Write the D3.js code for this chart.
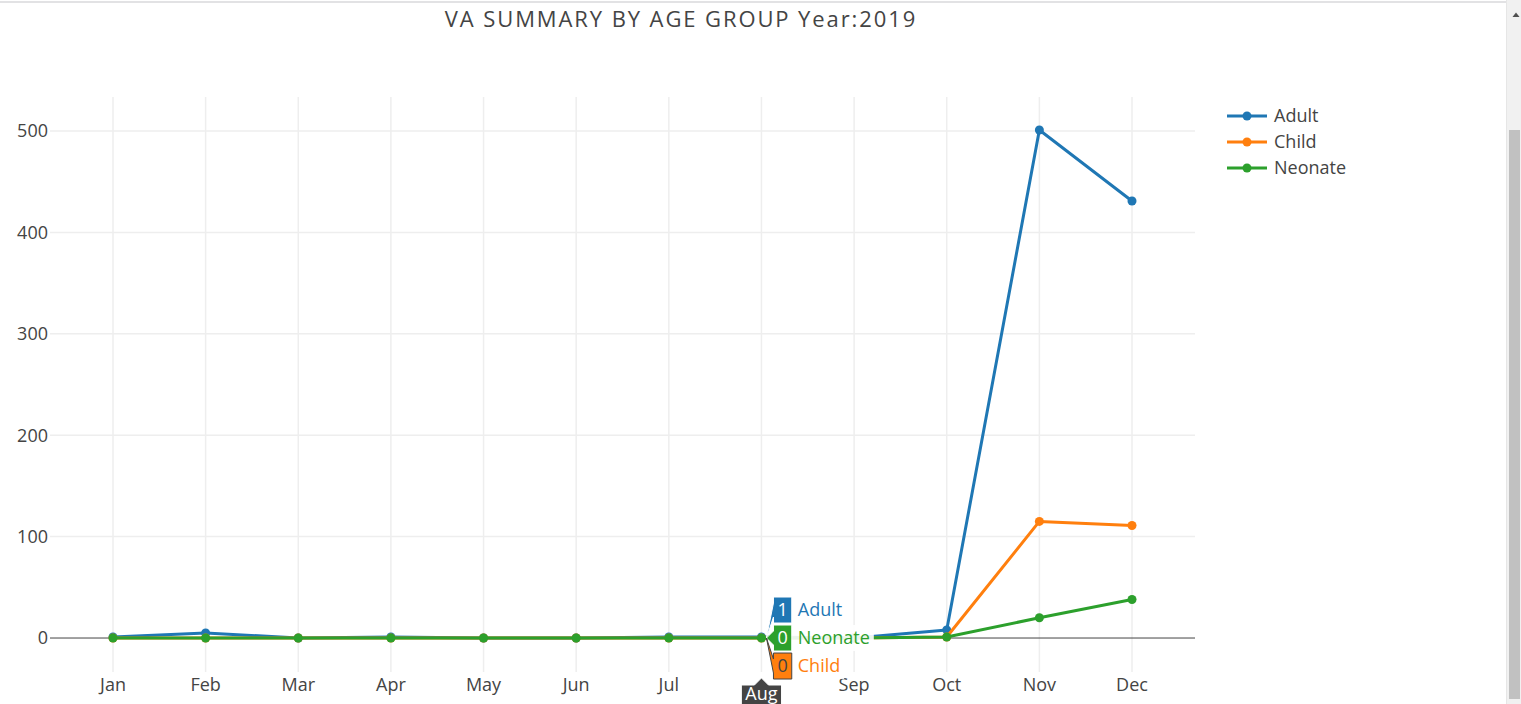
<!DOCTYPE html>
<html>
<head>
<meta charset="utf-8">
<script src="https://cdn.jsdelivr.net/npm/d3@7"></script>
<style>
  body { margin: 0; background: #fff; overflow: hidden; }
  svg { display: block; font-family: "Open Sans", sans-serif; }
</style>
</head>
<body>
<svg id="chart" width="1521" height="704"></svg>
<script>
// chart values
var months = ['Jan','Feb','Mar','Apr','May','Jun','Jul','Aug','Sep','Oct','Nov','Dec'];
var adult   = [1, 5, 0, 1, 0, 0, 1, 1, 0, 8, 501, 431];
var child   = [0, 0, 0, 0, 0, 0, 0, 0, 0, 1, 115, 111];
var neonate = [0, 0, 0, 0, 0, 0, 0, 0, 0, 1, 20, 38];
var seriesNames = ['Adult', 'Child', 'Neonate'];
var seriesValues = [adult, child, neonate];
var seriesColors = ['#1f77b4', '#ff7f0e', '#2ca02c'];
var yTicks = [0, 100, 200, 300, 400, 500];
var titleText = 'VA SUMMARY BY AGE GROUP Year:2019';
// hover state shown in the screenshot
var hoverMonth = 'Aug';
var hoverOrder = ['Adult', 'Neonate', 'Child'];

var svg = d3.select('#chart');
var plot = {left: 50, right: 1195, top: 97, bottom: 672};

var x = d3.scalePoint()
  .domain(months)
  .range([plot.left, plot.right])
  .padding(0.68);

var y = d3.scaleLinear()
  .domain([-33.5, 533.5])
  .range([plot.bottom, plot.top]);

var series = seriesNames.map(function(name, i) {
  return {
    name: name,
    color: seriesColors[i],
    values: seriesValues[i].map(function(v, j) { return {month: months[j], value: v}; })
  };
});

// page chrome: top border + scrollbar
svg.append('rect').attr('x', 0).attr('y', 1).attr('width', 1507).attr('height', 2).attr('fill', '#e2e2e4');
svg.append('rect').attr('x', 1506).attr('y', 0).attr('width', 15).attr('height', 704).attr('fill', '#f1f1f1');
svg.append('line').attr('x1', 1506.5).attr('x2', 1506.5).attr('y1', 0).attr('y2', 704).attr('stroke', '#e6e6e6');
svg.append('rect').attr('x', 1509).attr('y', 130).attr('width', 11).attr('height', 569).attr('fill', '#c1c1c1');
svg.append('path').attr('d', 'M1512.5,17L1516,12.5L1519.5,17Z').attr('fill', '#505050');

// grid
var grid = svg.append('g');
grid.selectAll('.vgrid')
  .data(months)
  .enter().append('line')
    .attr('class', 'vgrid')
    .attr('x1', function(d) { return x(d); })
    .attr('x2', function(d) { return x(d); })
    .attr('y1', plot.top)
    .attr('y2', plot.bottom)
    .attr('stroke', '#eee')
    .attr('stroke-width', 1.5);

grid.selectAll('.hgrid')
  .data(yTicks.filter(function(t) { return t !== 0; }))
  .enter().append('line')
    .attr('class', 'hgrid')
    .attr('x1', plot.left)
    .attr('x2', plot.right)
    .attr('y1', function(d) { return y(d); })
    .attr('y2', function(d) { return y(d); })
    .attr('stroke', '#eee')
    .attr('stroke-width', 1.5);

// zero line
svg.append('line')
  .attr('x1', plot.left).attr('x2', plot.right)
  .attr('y1', y(0)).attr('y2', y(0))
  .attr('stroke', '#444')
  .attr('stroke-width', 1);

// y tick labels
svg.append('g').selectAll('text')
  .data(yTicks)
  .enter().append('text')
    .attr('x', plot.left - 2)
    .attr('y', function(d) { return y(d); })
    .attr('dy', '0.35em')
    .attr('text-anchor', 'end')
    .attr('font-size', 18)
    .attr('fill', '#444')
    .text(function(d) { return d; });

// x tick labels (the hovered month's tick sits under its hover label)
svg.append('g').selectAll('text')
  .data(months.filter(function(m) { return m !== hoverMonth; }))
  .enter().append('text')
    .attr('x', function(d) { return x(d); })
    .attr('y', 691)
    .attr('text-anchor', 'middle')
    .attr('font-size', 18)
    .attr('fill', '#444')
    .text(function(d) { return d; });

// traces
var line = d3.line()
  .x(function(d) { return x(d.month); })
  .y(function(d) { return y(d.value); });

var traces = svg.append('g').selectAll('.trace')
  .data(series)
  .enter().append('g')
    .attr('class', 'trace');

traces.append('path')
  .attr('d', function(d) { return line(d.values); })
  .attr('fill', 'none')
  .attr('stroke', function(d) { return d.color; })
  .attr('stroke-width', 3)
  .attr('stroke-linejoin', 'round');

traces.selectAll('circle')
  .data(function(d) { return d.values.map(function(v) { return {v: v, color: d.color}; }); })
  .enter().append('circle')
    .attr('cx', function(d) { return x(d.v.month); })
    .attr('cy', function(d) { return y(d.v.value); })
    .attr('r', 4.5)
    .attr('fill', function(d) { return d.color; });

// legend
var legend = svg.append('g').attr('transform', 'translate(1227,116)');
var items = legend.selectAll('g')
  .data(series)
  .enter().append('g')
    .attr('transform', function(d, i) { return 'translate(0,' + (i * 26) + ')'; });
items.append('line')
  .attr('x1', 0).attr('x2', 40)
  .attr('stroke', function(d) { return d.color; })
  .attr('stroke-width', 3);
items.append('circle')
  .attr('cx', 20).attr('r', 4.5)
  .attr('fill', function(d) { return d.color; });
items.append('text')
  .attr('x', 47)
  .attr('dy', '0.35em')
  .attr('font-size', 18)
  .attr('fill', '#444')
  .text(function(d) { return d.name; });

// title
svg.append('text')
  .attr('x', 681)
  .attr('y', 27)
  .attr('text-anchor', 'middle')
  .attr('font-size', 22)
  .attr('letter-spacing', 1.9)
  .attr('fill', '#444')
  .text(titleText);

// hover labels at Aug
var hi = months.indexOf(hoverMonth);
var px = x(hoverMonth);
var arrow = 7, boxH = 26, gap = 28, pad = 4;
var hoverData = hoverOrder.map(function(name, i) {
  var s = series.filter(function(d) { return d.name === name; })[0];
  return {name: name, color: s.color, value: s.values[hi].value, offset: (i - 1) * gap};
});
var hy = y(hoverData[1].value);
var hover = svg.append('g').attr('transform', 'translate(' + (px + 5) + ',' + hy + ')');
hoverData.forEach(function(d) {
  var g = hover.append('g');
  var light = d.name === 'Child';
  var val = g.append('text')
    .attr('font-size', 18)
    .attr('fill', light ? '#444' : '#fff')
    .attr('text-anchor', 'middle')
    .attr('dy', '0.35em')
    .text(d.value);
  var w = val.node().getComputedTextLength() + 2 * pad;
  var nm = g.append('text')
    .attr('x', arrow + w + 6)
    .attr('y', d.offset)
    .attr('dy', '0.35em')
    .attr('font-size', 18)
    .attr('fill', d.color)
    .text(d.name);
  var nw = nm.node().getComputedTextLength();
  g.insert('rect', 'text')
    .attr('x', arrow + w)
    .attr('y', d.offset - boxH / 2)
    .attr('width', nw + 10)
    .attr('height', boxH)
    .attr('fill', '#fff')
    .attr('opacity', 0.9);
  g.insert('path', 'text')
    .attr('d', 'M0,0L' + arrow + ',' + (arrow + d.offset) + 'v' + (boxH / 2 - arrow) + 'h' + w +
      'v-' + boxH + 'H' + arrow + 'V' + (d.offset - arrow) + 'Z')
    .attr('fill', d.color)
    .attr('stroke', light ? '#444' : '#fff')
    .attr('stroke-width', 1);
  val.attr('x', arrow + w / 2).attr('y', d.offset);
});

// x axis hover label
var xh = svg.append('g').attr('transform', 'translate(' + px + ',' + (plot.bottom + 6) + ')');
var xt = xh.append('text')
  .attr('font-size', 18)
  .attr('fill', '#fff')
  .attr('text-anchor', 'middle')
  .attr('y', 22)
  .text(hoverMonth);
var xw = xt.node().getComputedTextLength() + 2 * pad;
xh.insert('path', 'text')
  .attr('d', 'M0,0L' + arrow + ',' + arrow + 'H' + (xw / 2) + 'v' + boxH + 'H' + (-xw / 2) + 'V' + arrow + 'H' + (-arrow) + 'Z')
  .attr('fill', '#444')
  .attr('stroke', '#fff')
  .attr('stroke-width', 1);
</script>
</body>
</html>
